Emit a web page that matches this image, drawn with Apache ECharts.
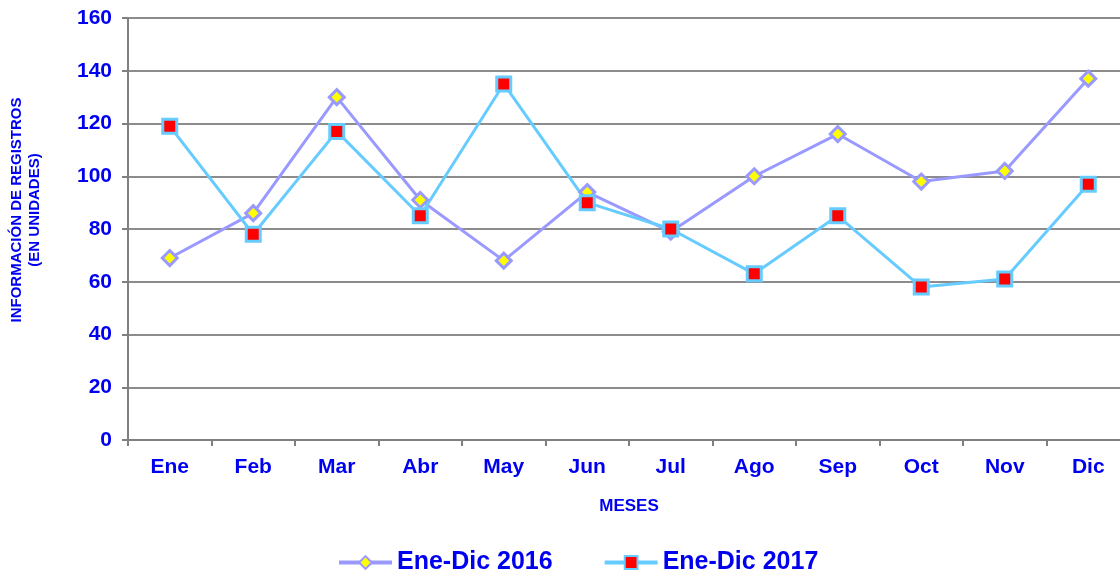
<!DOCTYPE html>
<html>
<head>
<meta charset="utf-8">
<script src="https://cdn.jsdelivr.net/npm/echarts@6/dist/echarts.min.js"></script>
<style>
  html, body { margin: 0; padding: 0; background: #fff; }
  #chart { width: 1120px; height: 576px; }
</style>
</head>
<body>
<div id="chart"></div>
<script>
  // datos
  var meses = ['Ene', 'Feb', 'Mar', 'Abr', 'May', 'Jun', 'Jul', 'Ago', 'Sep', 'Oct', 'Nov', 'Dic'];
  var datos2016 = [69, 86, 130, 91, 68, 94, 79, 100, 116, 98, 102, 137];
  var datos2017 = [119, 78, 117, 85, 135, 90, 80, 63, 85, 58, 61, 97];

  var azul = '#0000F0';
  var fuente = 'Liberation Sans, Arial, sans-serif';

  var chart = echarts.init(document.getElementById('chart'));
  chart.setOption({
    animation: false,
    textStyle: { fontFamily: fuente },
    grid: { left: 128, right: -10, top: 18, bottom: 136, containLabel: false, outerBoundsMode: 'none' },
    legend: {
      bottom: -4,
      left: 332,
      itemWidth: 53,
      itemHeight: 16,
      itemGap: 50,
      lineStyle: { width: 4 },
      textStyle: { color: azul, fontSize: 25, fontWeight: 'bold', fontFamily: fuente },
      data: ['Ene-Dic 2016', 'Ene-Dic 2017']
    },
    xAxis: {
      type: 'category',
      data: meses,
      boundaryGap: true,
      name: 'MESES',
      nameLocation: 'middle',
      nameGap: 58,
      nameTextStyle: { color: azul, fontSize: 17, fontWeight: 'bold', fontFamily: fuente },
      axisLine: { lineStyle: { color: '#808080', width: 2 } },
      axisTick: { show: true, length: 6, lineStyle: { color: '#808080', width: 2 } },
      axisLabel: { color: azul, fontSize: 21, fontWeight: 'bold', margin: 17 }
    },
    yAxis: {
      type: 'value',
      min: 0,
      max: 160,
      interval: 20,
      name: 'INFORMACIÓN DE REGISTROS\n(EN UNIDADES)',
      nameLocation: 'middle',
      nameRotate: 90,
      nameGap: 84,
      nameTextStyle: { color: azul, fontSize: 15, fontWeight: 'bold', fontFamily: fuente, lineHeight: 18, padding: [0, 0, 0, 38] },
      axisLine: { show: true, lineStyle: { color: '#808080', width: 2 } },
      axisTick: { show: true, length: 6, lineStyle: { color: '#808080', width: 2 } },
      axisLabel: { color: azul, fontSize: 21, fontWeight: 'bold', margin: 16 },
      splitLine: { lineStyle: { color: '#8c8c8c', width: 2 } }
    },
    series: [
      {
        name: 'Ene-Dic 2016',
        type: 'line',
        data: datos2016,
        symbol: 'diamond',
        symbolSize: 15,
        lineStyle: { color: '#9999FF', width: 3 },
        itemStyle: { color: '#FFFF00', borderColor: '#9999FF', borderWidth: 3 }
      },
      {
        name: 'Ene-Dic 2017',
        type: 'line',
        data: datos2017,
        symbol: 'rect',
        symbolSize: 14,
        lineStyle: { color: '#66CCFF', width: 3 },
        itemStyle: { color: '#FF0000', borderColor: '#66CCFF', borderWidth: 3 }
      }
    ]
  });
</script>
</body>
</html>
